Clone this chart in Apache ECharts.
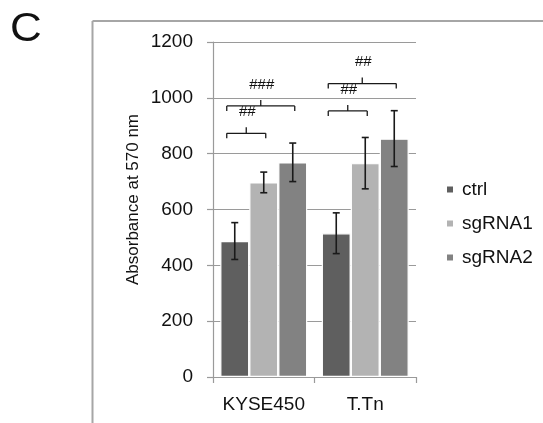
<!DOCTYPE html>
<html>
<head>
<meta charset="utf-8">
<script src="https://cdn.jsdelivr.net/npm/echarts@6/dist/echarts.min.js"></script>
<style>
html,body{margin:0;padding:0;background:#fff;}
#chart{width:543px;height:423px;}
</style>
</head>
<body>
<div id="chart"></div>
<script>
// ---- data ----
var categories = ['KYSE450', 'T.Tn'];
var seriesNames = ['ctrl', 'sgRNA1', 'sgRNA2'];
var ctrlValues = [487, 515];
var sgRNA1Values = [697, 766];
var sgRNA2Values = [769, 854];
var ctrlErr = [66, 73];
var sgRNA1Err = [37, 92];
var sgRNA2Err = [69, 100];
var yTicks = [0, 200, 400, 600, 800, 1000, 1200];
// brackets: [category index, from series, to series, y value, label]
var bracketCats = [0, 0, 1, 1];
var bracketFrom = [0, 0, 0, 0];
var bracketTo = [1, 2, 1, 2];
var bracketY = [873, 971, 953, 1051];
var bracketLabels = ['##', '###', '##', '##'];

var colors = ['#5f5f5f', '#b3b3b3', '#828282'];
var BAR_W = 29;
var FONT = 'Liberation Sans, Arial, sans-serif';
var TXT = '#111111';

var allValues = [ctrlValues, sgRNA1Values, sgRNA2Values];
var allErr = [ctrlErr, sgRNA1Err, sgRNA2Err];

var errData = [];
for (var s = 0; s < 3; s++) {
  for (var c = 0; c < categories.length; c++) {
    errData.push([c, allValues[s][c] - allErr[s][c], allValues[s][c] + allErr[s][c], s]);
  }
}
var brData = [];
for (var i = 0; i < bracketCats.length; i++) {
  brData.push([bracketCats[i], bracketFrom[i], bracketTo[i], bracketY[i], i]);
}

var barSeries = seriesNames.map(function (n, idx) {
  return {
    name: n,
    type: 'bar',
    data: allValues[idx],
    barWidth: BAR_W,
    barGap: '0%',
    itemStyle: { color: colors[idx], borderColor: '#ffffff', borderWidth: 1.2 },
    emphasis: { disabled: true },
    animation: false
  };
});

function barCenter(api, cat, s) {
  return api.coord([cat, 0])[0] + (s - 1) * BAR_W;
}

var errSeries = {
  type: 'custom',
  name: 'err',
  data: errData,
  z: 10,
  animation: false,
  renderItem: function (params, api) {
    var cat = api.value(0), lo = api.value(1), hi = api.value(2), s = api.value(3);
    var x = barCenter(api, cat, s);
    var yLo = api.coord([cat, lo])[1];
    var yHi = api.coord([cat, hi])[1];
    var st = { stroke: '#1a1a1a', lineWidth: 1.6 };
    return {
      type: 'group',
      children: [
        { type: 'line', shape: { x1: x, y1: yLo, x2: x, y2: yHi }, style: st },
        { type: 'line', shape: { x1: x - 3.5, y1: yLo, x2: x + 3.5, y2: yLo }, style: st },
        { type: 'line', shape: { x1: x - 3.5, y1: yHi, x2: x + 3.5, y2: yHi }, style: st }
      ]
    };
  }
};

var bracketSeries = {
  type: 'custom',
  name: 'brackets',
  data: brData,
  z: 10,
  clip: false,
  animation: false,
  renderItem: function (params, api) {
    var cat = api.value(0), f = api.value(1), t = api.value(2), yv = api.value(3), li = api.value(4);
    var x1 = barCenter(api, cat, f) - 8;
    var x2 = barCenter(api, cat, t) + 2;
    var y = api.coord([cat, yv])[1];
    var mid = (x1 + x2) / 2;
    var st = { stroke: '#1a1a1a', lineWidth: 1.3 };
    return {
      type: 'group',
      children: [
        { type: 'line', shape: { x1: x1, y1: y, x2: x2, y2: y }, style: st },
        { type: 'line', shape: { x1: x1, y1: y, x2: x1, y2: y + 5 }, style: st },
        { type: 'line', shape: { x1: x2, y1: y, x2: x2, y2: y + 5 }, style: st },
        { type: 'line', shape: { x1: mid, y1: y, x2: mid, y2: y - 6 }, style: st },
        { type: 'text', style: { x: mid + 1, y: y - 14, text: bracketLabels[li], fill: TXT,
          fontSize: 15, fontFamily: FONT, textAlign: 'center', textVerticalAlign: 'bottom' } }
      ]
    };
  }
};

var chart = echarts.init(document.getElementById('chart'), null, { renderer: 'canvas' });
chart.setOption({
  backgroundColor: '#ffffff',
  animation: false,
  textStyle: { fontFamily: FONT },
  grid: { left: 213, right: 127, top: 42, bottom: 46, containLabel: false },
  legend: {
    data: seriesNames,
    orient: 'vertical',
    left: 445,
    top: 180,
    padding: 0,
    itemWidth: 8,
    itemHeight: 8,
    itemGap: 15,
    icon: 'rect',
    selectedMode: false,
    textStyle: { fontSize: 19, color: TXT, lineHeight: 19, padding: [0, 0, 0, 3], fontFamily: FONT }
  },
  xAxis: {
    type: 'category',
    data: categories,
    axisLine: { lineStyle: { color: '#9a9a9a', width: 1.2 } },
    axisTick: { show: true, length: 6, lineStyle: { color: '#9a9a9a', width: 1.2 } },
    axisLabel: { fontSize: 19, color: TXT, margin: 18, interval: 0, hideOverlap: false, fontFamily: FONT }
  },
  yAxis: {
    type: 'value',
    min: yTicks[0],
    max: yTicks[yTicks.length - 1],
    interval: yTicks[1] - yTicks[0],
    name: 'Absorbance at 570 nm',
    nameLocation: 'middle',
    nameRotate: 90,
    nameGap: 71,
    nameTextStyle: { fontSize: 17, color: TXT, fontFamily: FONT, padding: [0, 0, 0, 20] },
    axisLine: { show: true, lineStyle: { color: '#9a9a9a', width: 1.2 } },
    axisTick: { show: true, length: 6, lineStyle: { color: '#9a9a9a', width: 1.2 } },
    axisLabel: { fontSize: 19, color: TXT, margin: 20, fontFamily: FONT,
      formatter: function (v) { return String(v); } },
    splitLine: { show: true, lineStyle: { color: '#9a9a9a', width: 1.2 } }
  },
  graphic: [
    { type: 'text', x: 10, y: 10, scaleX: 1.1, style: { text: 'C', fontSize: 40, fontFamily: FONT, fill: '#111', textVerticalAlign: 'top' } },
    { type: 'line', shape: { x1: 92.5, y1: 21, x2: 543, y2: 21 }, style: { stroke: '#a6a6a6', lineWidth: 2 } },
    { type: 'line', shape: { x1: 92.5, y1: 21, x2: 92.5, y2: 423 }, style: { stroke: '#a6a6a6', lineWidth: 2 } }
  ],
  series: barSeries.concat([errSeries, bracketSeries])
});
</script>
</body>
</html>
